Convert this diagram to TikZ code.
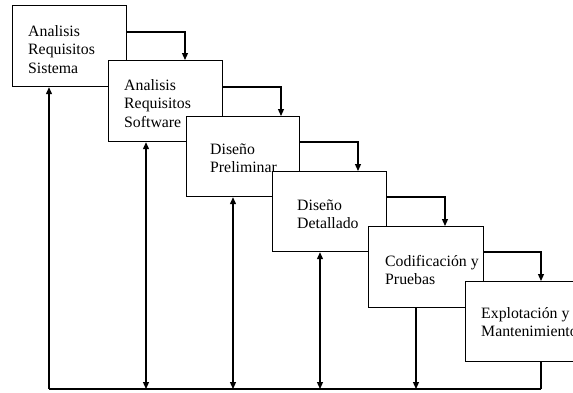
\documentclass[tikz,border=0pt]{standalone}
\usepackage{fontspec}
\setmainfont{Liberation Serif}
\usetikzlibrary{arrows.meta}
\tikzset{
  stage/.style={draw, fill=white, line width=1.2pt, inner sep=0pt, anchor=north west},
  stagetext/.style={anchor=north west, align=left, inner sep=0pt,
    font={\fontsize{15.8}{18.7}\selectfont}},
  link/.style={line width=1.2pt},
  tip/.style={-{Triangle[length=7pt,width=6pt]}},
  twotip/.style={{Triangle[length=7pt,width=6pt]}-{Triangle[length=7pt,width=6pt]}}
}
\newcommand{\firstline}{\rule{0pt}{12pt}}
\begin{document}
\begin{tikzpicture}[x=1pt,y=-1pt]
  \useasboundingbox (0,0) rectangle (573,392);
  \clip (0,0) rectangle (573,392);

  % stages of the cascade, each one laid over the previous one
  \node[stage, minimum width=114pt, minimum height=81pt] (b1) at (12,5) {};
  \node[stagetext] (t1) at (28,24) {\firstline Analisis\\Requisitos\\Sistema};
  \node[stage, minimum width=114pt, minimum height=81pt] (b2) at (108,60) {};
  \node[stagetext] (t2) at (124,78) {\firstline Analisis\\Requisitos\\Software};
  \node[stage, minimum width=113pt, minimum height=80pt] (b3) at (186,116) {};
  \node[stagetext] (t3) at (210,142) {\firstline Diseño\\Preliminar};
  \node[stage, minimum width=114pt, minimum height=80pt] (b4) at (272,171) {};
  \node[stagetext] (t4) at (297,198) {\firstline Diseño\\Detallado};
  \node[stage, minimum width=115pt, minimum height=81pt] (b5) at (368,226) {};
  \node[stagetext] (t5) at (385,254) {\firstline Codificación y\\Pruebas};
  \node[stage, minimum width=115pt, minimum height=80pt] (b6) at (465,281) {};
  \node[stagetext] (t6) at (481,306) {\firstline Explotación y\\Mantenimiento};

  % forward flow from each stage to the next one
  \draw[link, tip] ([yshift=-27pt]b1.north east) -| ([xshift=77pt]b2.north west);
  \draw[link, tip] ([yshift=-27pt]b2.north east) -| ([xshift=95pt]b3.north west);
  \draw[link, tip] ([yshift=-26pt]b3.north east) -| ([xshift=86pt]b4.north west);
  \draw[link, tip] ([yshift=-26pt]b4.north east) -| ([xshift=77pt]b5.north west);
  \draw[link, tip] ([yshift=-26pt]b5.north east) -| ([xshift=76pt]b6.north west);

  % feedback bus along the bottom
  \coordinate (busL) at (49,389);
  \coordinate (busR) at (541,389);
  \draw[link] (busL) -- (busR);
  \draw[link, tip] (busL) -- ([xshift=37pt]b1.south west);
  \draw[link, twotip] ([xshift=38pt]b2.south west) -- ([xshift=38pt]b2.south west |- busL);
  \draw[link, twotip] ([xshift=47pt]b3.south west) -- ([xshift=47pt]b3.south west |- busL);
  \draw[link, twotip] ([xshift=48pt]b4.south west) -- ([xshift=48pt]b4.south west |- busL);
  \draw[link, tip] ([xshift=48pt]b5.south west) -- ([xshift=48pt]b5.south west |- busL);
  \draw[link] ([xshift=76pt]b6.south west) -- (busR);
\end{tikzpicture}
\end{document}
